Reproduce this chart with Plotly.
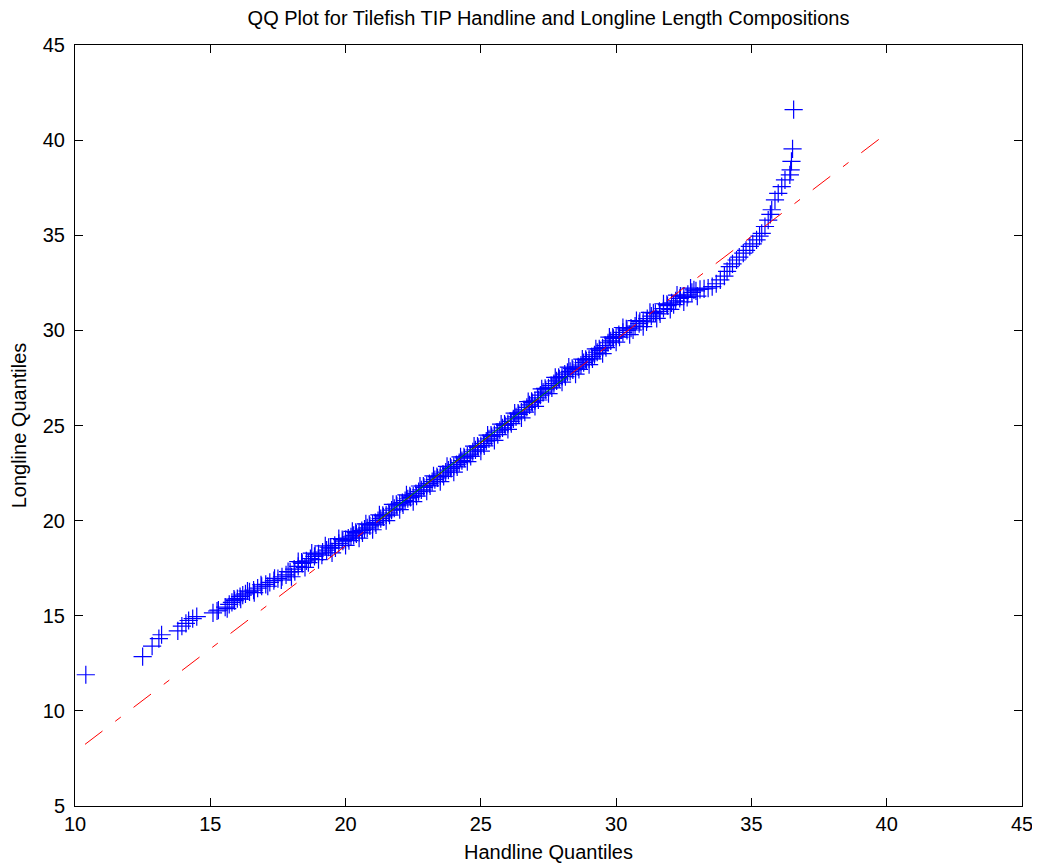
import plotly.graph_objects as go

# ---- data (quantile pairs) ----
handline_q = [
    10.4, 12.5, 12.85, 13.1, 13.2, 13.8, 13.95, 14.1, 14.2, 14.35, 14.5, 15.1, 15.25, 15.3,
    15.55, 15.7, 15.8, 15.9, 16.0, 16.1, 16.2, 16.3, 16.45, 16.6, 16.75, 16.9, 17.05, 17.2,
    17.35, 17.5, 17.65, 17.8, 17.95, 18.1, 18.25, 18.4, 18.55, 18.7, 18.85, 19.0, 19.15,
    19.3, 19.45, 19.6, 19.75, 19.9,
    20.0, 20.1, 20.2, 20.3, 20.4, 20.5, 20.6, 20.7, 20.8, 20.9,
    21.0, 21.1, 21.2, 21.3, 21.4, 21.5, 21.6, 21.7, 21.8, 21.9,
    22.0, 22.1, 22.2, 22.3, 22.4, 22.5, 22.6, 22.7, 22.8, 22.9,
    23.0, 23.1, 23.2, 23.3, 23.4, 23.5, 23.6, 23.7, 23.8, 23.9,
    24.0, 24.1, 24.2, 24.3, 24.4, 24.5, 24.6, 24.7, 24.8, 24.9,
    25.0, 25.1, 25.2, 25.3, 25.4, 25.5, 25.6, 25.7, 25.8, 25.9,
    26.0, 26.1, 26.2, 26.3, 26.4, 26.5, 26.6, 26.7, 26.8, 26.9,
    27.0, 27.1, 27.2, 27.3, 27.4, 27.5, 27.6, 27.7, 27.8, 27.9,
    28.0, 28.1, 28.2, 28.3, 28.4, 28.5, 28.6, 28.7, 28.8, 28.9,
    29.0, 29.1, 29.2, 29.3, 29.4, 29.5, 29.6, 29.7, 29.8, 29.9,
    30.0, 30.1, 30.25, 30.4, 30.55, 30.7, 30.85, 31.0, 31.15, 31.3, 31.45, 31.6, 31.75,
    31.9, 32.05, 32.2, 32.35, 32.5, 32.65, 32.8, 32.95, 33.1, 33.25, 33.4, 33.55, 33.7,
    33.85, 34.0, 34.1, 34.2, 34.3, 34.45, 34.55, 34.7, 34.8, 34.94, 35.05, 35.19, 35.3,
    35.38, 35.5, 35.62, 35.7, 35.75, 35.87, 35.99, 36.12, 36.24, 36.42, 36.45, 36.48,
    36.52, 36.56,
    # additional quantiles forming the wider band in the dense middle
    18.0, 18.25, 18.5, 18.75, 19.0, 19.25, 19.5, 19.75, 20.0, 20.25, 20.5, 20.75,
    21.0, 21.25, 21.5, 21.75, 22.0, 22.25, 22.5, 22.75, 23.0, 23.25, 23.5, 23.75,
    24.0, 24.25, 24.5, 24.75, 25.0, 25.25, 25.5, 25.75, 26.0, 26.25, 26.5, 26.75,
    27.0, 27.25, 27.5, 27.75, 28.0, 28.25, 28.5, 28.75, 29.0, 29.25, 29.5, 29.75,
    30.0, 30.25, 30.5, 30.75, 31.0, 31.25, 31.5, 31.75, 32.0, 32.25, 32.5, 32.75, 33.0,
    15.625, 15.875, 16.125, 16.375, 16.625, 16.875, 17.125, 17.375, 17.625, 17.875,
    18.125, 18.375, 18.625, 18.875, 19.125, 19.375, 19.625, 19.875, 20.125, 20.375,
    20.625, 20.875, 21.125, 21.375, 21.625, 21.875, 22.125, 22.375, 22.625, 22.875,
    23.125, 23.375, 23.625, 23.875, 24.125, 24.375, 24.625, 24.875, 25.125, 25.375,
    25.625, 25.875, 26.125, 26.375, 26.625, 26.875, 27.125, 27.375, 27.625, 27.875,
    28.125, 28.375, 28.625, 28.875, 29.125, 29.375, 29.625, 29.875, 30.125, 30.375,
    30.625, 30.875, 31.125, 31.375, 31.625, 31.875, 32.125, 32.375, 32.625, 32.875,
]
longline_q = [
    11.9, 12.85, 13.4, 13.8, 14.0, 14.2, 14.45, 14.6, 14.75, 14.85, 14.95, 15.15, 15.25, 15.3,
    15.45, 15.6, 15.7, 15.8, 15.9, 16.0, 16.08, 16.15, 16.25, 16.35, 16.45, 16.55, 16.65, 16.75,
    16.85, 16.95, 17.05, 17.15, 17.3, 17.45, 17.6, 17.75, 17.88, 18.0, 18.12, 18.25, 18.35,
    18.45, 18.55, 18.7, 18.8, 18.92,
    19.0, 19.08, 19.15, 19.22, 19.3, 19.38, 19.48, 19.55, 19.62, 19.72,
    19.82, 19.9, 20.0, 20.1, 20.2, 20.3, 20.4, 20.55, 20.65, 20.78,
    20.88, 20.95, 21.05, 21.15, 21.22, 21.3, 21.42, 21.52, 21.62, 21.75,
    21.85, 21.95, 22.05, 22.15, 22.25, 22.35, 22.45, 22.55, 22.65, 22.75,
    22.85, 22.95, 23.05, 23.15, 23.28, 23.4, 23.5, 23.62, 23.72, 23.85,
    23.95, 24.05, 24.18, 24.3, 24.42, 24.52, 24.65, 24.75, 24.88, 25.0,
    25.1, 25.22, 25.35, 25.45, 25.58, 25.7, 25.82, 25.95, 26.08, 26.2,
    26.3, 26.45, 26.6, 26.75, 26.88, 26.98, 27.1, 27.2, 27.35, 27.45,
    27.58, 27.7, 27.8, 27.85, 27.92, 28.0, 28.08, 28.18, 28.3, 28.4,
    28.5, 28.62, 28.72, 28.85, 28.95, 29.08, 29.2, 29.35, 29.45, 29.58,
    29.68, 29.78, 29.9, 30.0, 30.12, 30.22, 30.35, 30.5, 30.62, 30.75, 30.9, 31.0, 31.15,
    31.3, 31.45, 31.55, 31.68, 31.8, 31.9, 32.0, 32.08, 32.15, 32.18, 32.22, 32.3, 32.45,
    32.65, 32.85, 33.1, 33.35, 33.5, 33.7, 33.85, 34.06, 34.2, 34.41, 34.55, 34.76, 34.95,
    35.1, 35.46, 35.8, 36.1, 36.34, 36.86, 37.2, 37.56, 37.91, 38.17, 38.44, 38.88,
    39.54, 41.6,
    17.05, 17.85, 17.54, 18.29, 17.95, 18.67, 18.3, 19.05, 18.7, 19.43, 19.08, 19.83,
    19.52, 20.3, 20.0, 20.85, 20.58, 21.35, 21.0, 21.82, 21.55, 22.35, 22.05, 22.85,
    22.55, 23.35, 23.1, 23.92, 23.65, 24.49, 24.22, 25.07, 24.8, 25.65, 25.4, 26.25,
    26.0, 26.93, 26.68, 27.53, 27.28, 28.07, 27.7, 28.49, 28.2, 29.03, 28.78, 29.65,
    29.38, 30.15, 29.78, 30.51, 30.2, 30.95, 30.63, 31.4, 31.1, 31.85, 31.5, 32.22, 31.8,
    15.37, 15.87, 15.87, 16.3, 16.22, 16.63, 16.55, 16.96, 16.88, 17.32,
    17.32, 17.82, 17.79, 18.24, 18.18, 18.6, 18.57, 19.0, 18.95, 19.38,
    19.35, 19.8, 19.78, 20.28, 20.29, 20.85, 20.82, 21.3, 21.29, 21.82,
    21.83, 22.32, 22.33, 22.82, 22.83, 23.35, 23.38, 23.92, 23.93, 24.49,
    24.52, 25.07, 25.1, 25.65, 25.7, 26.27, 26.34, 26.95, 26.98, 27.53,
    27.57, 28.0, 27.95, 28.48, 28.5, 29.03, 29.09, 29.65, 29.65, 30.08,
    30.02, 30.47, 30.45, 30.92, 30.87, 31.37, 31.35, 31.8, 31.73, 32.13,
]

# reference lines (through first/third quartiles, and its extension)
quartile_line_x = [21.2, 28.2]
quartile_line_y = [20.0, 27.6]
extended_line_x = [10.37, 39.93]
extended_line_y = [8.24, 40.28]

x_ticks = [10, 15, 20, 25, 30, 35, 40, 45]
y_ticks = [5, 10, 15, 20, 25, 30, 35, 40, 45]

FONT = "Liberation Sans, Arial, sans-serif"
FS = 20

fig = go.Figure()
fig.add_trace(go.Scatter(
    x=handline_q, y=longline_q, mode="markers",
    marker=dict(symbol="cross-thin-open", size=13, color="rgb(0,0,255)",
                line=dict(color="rgb(0,0,255)", width=1.2)),
    showlegend=False, hoverinfo="skip"))
fig.add_trace(go.Scatter(
    x=extended_line_x, y=extended_line_y, mode="lines",
    line=dict(color="rgb(255,0,0)", width=1, dash="22px,16px,7px,16px"),
    showlegend=False, hoverinfo="skip"))
fig.add_trace(go.Scatter(
    x=quartile_line_x, y=quartile_line_y, mode="lines",
    line=dict(color="rgb(0,128,0)", width=1),
    showlegend=False, hoverinfo="skip"))

axis_common = dict(
    showgrid=False, zeroline=False, showline=True, linecolor="black", linewidth=1,
    mirror="ticks", ticks="inside", ticklen=8, tickcolor="black", tickwidth=1,
    tickfont=dict(family=FONT, size=FS, color="black"), automargin=False,
)
fig.update_xaxes(range=[10, 45], tickvals=x_ticks, ticktext=[str(v) for v in x_ticks],
                 title=dict(text="Handline Quantiles", font=dict(family=FONT, size=FS, color="black"),
                            standoff=10),
                 **axis_common)
fig.update_yaxes(range=[5, 45], tickvals=y_ticks, ticktext=[str(v) for v in y_ticks],
                 ticklabelstandoff=5,
                 title=dict(text="Longline Quantiles", font=dict(family=FONT, size=FS, color="black"),
                            standoff=10),
                 **axis_common)
fig.update_layout(
    width=1032, height=859,
    margin=dict(l=67, r=18, t=37, b=61),
    plot_bgcolor="white", paper_bgcolor="white",
    title=dict(text="QQ Plot for Tilefish TIP Handline and Longline Length Compositions",
               x=(548.5 - 8) / 1032, xanchor="center", xref="container",
               y=1 - 10 / 859, yanchor="middle",
               font=dict(family=FONT, size=FS, color="black")),
    font=dict(family=FONT),
)
fig.write_html("out.html")
